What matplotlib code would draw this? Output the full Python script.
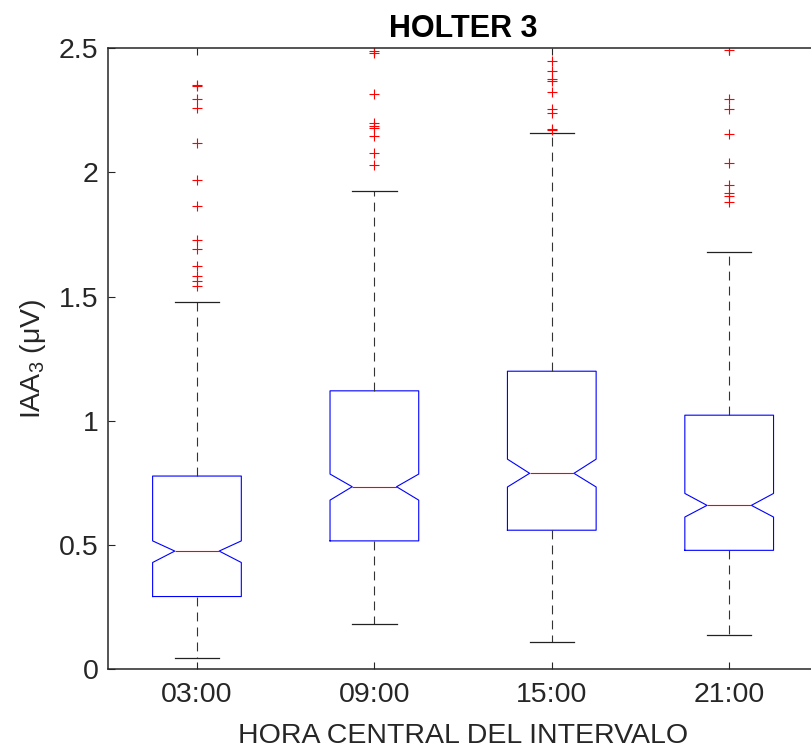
import matplotlib
matplotlib.use("Agg")
import matplotlib.pyplot as plt

plt.rcParams['font.family'] = ['Liberation Sans', 'DejaVu Sans']
plt.rcParams['mathtext.default'] = 'regular'

categories = ["03:00", "09:00", "15:00", "21:00"]
q1 = [0.293, 0.517, 0.560, 0.479]
med = [0.476, 0.735, 0.789, 0.660]
q3 = [0.778, 1.121, 1.200, 1.023]
ci_lo = [0.430, 0.681, 0.734, 0.613]
ci_hi = [0.517, 0.786, 0.846, 0.708]
whis_lo = [0.047, 0.183, 0.109, 0.137]
whis_hi = [1.479, 1.925, 2.160, 1.680]
fliers = [
    [2.351, 2.348, 2.295, 2.261, 2.117, 1.968, 1.864, 1.730, 1.693, 1.624, 1.585, 1.563, 1.541],
    [2.489, 2.482, 2.317, 2.200, 2.189, 2.180, 2.146, 2.077, 2.032],
    [2.449, 2.409, 2.378, 2.368, 2.324, 2.257, 2.240, 2.176, 2.171],
    [2.492, 2.294, 2.257, 2.153, 2.039, 1.949, 1.918, 1.907, 1.882],
]

stats = []
for i in range(len(categories)):
    stats.append(dict(med=med[i], q1=q1[i], q3=q3[i], cilo=ci_lo[i], cihi=ci_hi[i],
                      whislo=whis_lo[i], whishi=whis_hi[i], fliers=fliers[i]))

fig = plt.figure(figsize=(8.11, 7.54), dpi=100)
ax = fig.add_axes([0.1335, 0.1123, 0.875, 0.8237])

ax.bxp(stats, positions=[1, 2, 3, 4], widths=0.5, shownotches=True,
       boxprops=dict(color='#0000ff', linewidth=0.8),
       medianprops=dict(color='red', linewidth=0.8),
       whiskerprops=dict(color='#333333', linestyle=(0, (8, 5.5)), linewidth=0.8),
       capprops=dict(color='#222222', linewidth=0.9),
       flierprops=dict(marker='+', markeredgecolor='red', markersize=7.5,
                       markeredgewidth=0.8, linestyle='none'),
       capwidths=0.25)

ax.set_xlim(0.5, 4.5)
ax.set_ylim(0, 2.5)
ax.set_xticks([1, 2, 3, 4])
ax.set_xticklabels(categories)
ax.set_yticks([0, 0.5, 1, 1.5, 2, 2.5])
ax.set_yticklabels(['0', '0.5', '1', '1.5', '2', '2.5'])

for s in ax.spines.values():
    s.set_color('#262626')
    s.set_linewidth(1.1)
ax.tick_params(direction='in', length=5, width=0.8, colors='#262626',
               labelsize=20.5, top=True, right=True)
ax.tick_params(axis='x', pad=9)
ax.tick_params(axis='y', pad=7)

ax.set_title('HOLTER 3', fontsize=22, fontweight='bold', color='black', pad=8)
ax.set_xlabel('HORA CENTRAL DEL INTERVALO', fontsize=20.5, color='#262626', labelpad=11)
ax.set_ylabel('IAA$_3$ (μV)', fontsize=20.5, color='#262626', labelpad=8)

fig.savefig('out.png', dpi=100)
